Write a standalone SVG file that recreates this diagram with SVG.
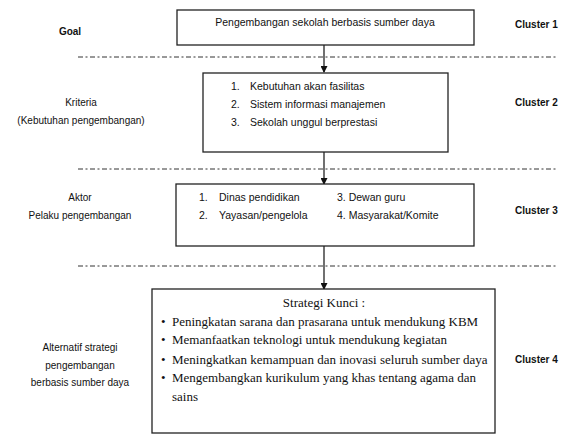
<svg xmlns="http://www.w3.org/2000/svg" width="565" height="435" viewBox="0 0 565 435">
<style>
.box{fill:#fff;stroke:#222;stroke-width:1.3}
.sep{stroke:#333;stroke-width:1;stroke-dasharray:5 2.5 2 2.5;fill:none}
.con{stroke:#111;stroke-width:1.2;fill:none}
.s{font-family:"Liberation Sans",Arial,sans-serif;font-size:10px;fill:#111}
.m{font-size:10.5px}
.b{font-weight:bold}
.r{font-family:"Liberation Serif","Times New Roman",serif;font-size:13px;fill:#111}
</style>
<defs>
<marker id="ah" markerWidth="7" markerHeight="7" refX="6" refY="3.5" orient="auto" markerUnits="userSpaceOnUse">
<path d="M0,0 L7,3.5 L0,7 Z" fill="#111"/>
</marker>
</defs>
<rect width="565" height="435" fill="#fff"/>
<g id="separators">
<line class="sep" x1="78" y1="57" x2="558" y2="57"/>
<line class="sep" x1="78" y1="169" x2="558" y2="169"/>
<line class="sep" x1="78" y1="266" x2="558" y2="266"/>
</g>
<g id="connectors">
<line class="con" x1="324" y1="45" x2="324" y2="72" marker-end="url(#ah)"/>
<line class="con" x1="324" y1="152" x2="324" y2="184" marker-end="url(#ah)"/>
<line class="con" x1="324" y1="246" x2="324" y2="289" marker-end="url(#ah)"/>
</g>
<g id="goal">
<rect class="box" x="177" y="10" width="297" height="35"/>
<text class="s m" x="325" y="26" text-anchor="middle">Pengembangan sekolah berbasis sumber daya</text>
</g>
<g id="kriteria">
<rect class="box" x="203" y="73" width="245" height="79"/>
<text class="s m" x="231" y="90">1.</text><text class="s m" x="250" y="90">Kebutuhan akan fasilitas</text>
<text class="s m" x="231" y="108">2.</text><text class="s m" x="250" y="108">Sistem informasi manajemen</text>
<text class="s m" x="231" y="126">3.</text><text class="s m" x="250" y="126">Sekolah unggul berprestasi</text>
</g>
<g id="aktor">
<rect class="box" x="176" y="184" width="298" height="62"/>
<text class="s m" x="199" y="201">1.</text><text class="s m" x="219" y="201">Dinas pendidikan</text>
<text class="s m" x="199" y="219">2.</text><text class="s m" x="219" y="219">Yayasan/pengelola</text>
<text class="s m" x="337" y="201">3. Dewan guru</text>
<text class="s m" x="337" y="219">4. Masyarakat/Komite</text>
</g>
<g id="strategi">
<rect class="box" x="152" y="289" width="343" height="144"/>
<text class="r" x="324" y="307" text-anchor="middle">Strategi Kunci :</text>
<g class="r">
<text x="161" y="326">•</text><text x="172" y="326">Peningkatan sarana dan prasarana untuk mendukung KBM</text>
<text x="161" y="344">•</text><text x="172" y="344">Memanfaatkan teknologi untuk mendukung kegiatan</text>
<text x="161" y="364">•</text><text x="172" y="364">Meningkatkan kemampuan dan inovasi seluruh sumber daya</text>
<text x="161" y="382">•</text><text x="172" y="382">Mengembangkan kurikulum yang khas tentang agama dan</text>
<text x="172" y="401">sains</text>
</g>
</g>
<g id="labels-left">
<text class="s b" x="70" y="35" text-anchor="middle">Goal</text>
<text class="s" x="81" y="106" text-anchor="middle">Kriteria</text>
<text class="s" x="81" y="124" text-anchor="middle">(Kebutuhan pengembangan)</text>
<text class="s" x="80" y="201" text-anchor="middle">Aktor</text>
<text class="s" x="80" y="219" text-anchor="middle">Pelaku pengembangan</text>
<text class="s" x="80" y="351" text-anchor="middle">Alternatif strategi</text>
<text class="s" x="80" y="369" text-anchor="middle">pengembangan</text>
<text class="s" x="80" y="386" text-anchor="middle">berbasis sumber daya</text>
</g>
<g id="labels-right">
<text class="s b" x="515" y="28">Cluster 1</text>
<text class="s b" x="515" y="106">Cluster 2</text>
<text class="s b" x="515" y="214">Cluster 3</text>
<text class="s b" x="515" y="363">Cluster 4</text>
</g>
</svg>
